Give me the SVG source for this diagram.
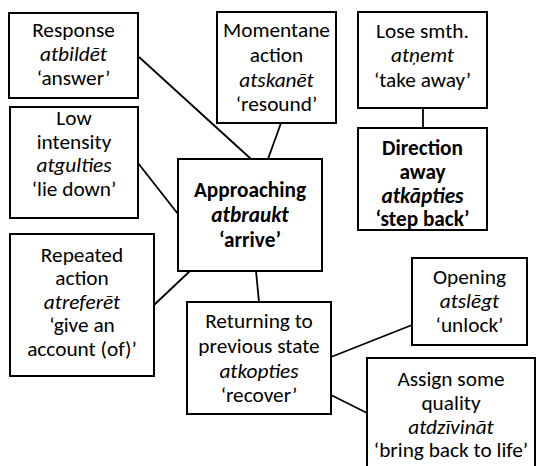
<svg xmlns="http://www.w3.org/2000/svg" width="540" height="466" viewBox="0 0 540 466">
  <style>
    .box { fill: #ffffff; stroke: #000000; stroke-width: 2; }
    .edge { stroke: #000000; stroke-width: 1.8; fill: none; }
    text { font-family: Carlito, Lato, "Liberation Sans", sans-serif; font-size: 21.3px; fill: #000000; text-anchor: middle; }
    .it { font-style: italic; }
    .b { font-weight: bold; }
  </style>
  <rect width="540" height="466" fill="#ffffff"/>

  <!-- connectors -->
  <g id="connectors">
    <line class="edge" x1="139" y1="57" x2="251" y2="159"/>
    <line class="edge" x1="281" y1="123" x2="268" y2="159"/>
    <line class="edge" x1="423" y1="108" x2="423" y2="128"/>
    <line class="edge" x1="138" y1="163" x2="178" y2="214"/>
    <line class="edge" x1="154" y1="305" x2="190" y2="271"/>
    <line class="edge" x1="256" y1="271" x2="259" y2="302"/>
    <line class="edge" x1="331" y1="357" x2="412" y2="325"/>
    <line class="edge" x1="331" y1="395" x2="367" y2="413"/>
  </g>

  <g id="response">
    <rect class="box" x="9" y="13" width="129" height="85"/>
    <text x="73.5" y="37">Response</text>
    <text class="it" x="73.5" y="61">atbildēt</text>
    <text x="73.5" y="85">‘answer’</text>
  </g>

  <g id="momentane">
    <rect class="box" x="217" y="12" width="119" height="111"/>
    <text x="276.5" y="37">Momentane</text>
    <text x="276.5" y="62">action</text>
    <text class="it" x="276.5" y="87">atskanēt</text>
    <text x="276.5" y="111">‘resound’</text>
  </g>

  <g id="lose">
    <rect class="box" x="358" y="12" width="129" height="96"/>
    <text x="422.5" y="38">Lose smth.</text>
    <text class="it" x="422.5" y="62">atņemt</text>
    <text x="422.5" y="87">‘take away’</text>
  </g>

  <g id="direction">
    <rect class="box" x="358" y="128" width="129" height="102"/>
    <text class="b" x="422.5" y="155">Direction</text>
    <text class="b" x="422.5" y="179">away</text>
    <text class="b it" x="422.5" y="203">atkāpties</text>
    <text class="b" x="422.5" y="226">‘step back’</text>
  </g>

  <g id="low">
    <rect class="box" x="10" y="107" width="128" height="111"/>
    <text x="74" y="125">Low</text>
    <text x="74" y="149">intensity</text>
    <text class="it" x="74" y="172">atgulties</text>
    <text x="74" y="196">‘lie down’</text>
  </g>

  <g id="approaching">
    <rect class="box" x="178" y="159" width="144" height="112"/>
    <text class="b" x="250" y="197">Approaching</text>
    <text class="b it" x="250" y="222">atbraukt</text>
    <text class="b" x="250" y="247">‘arrive’</text>
  </g>

  <g id="repeated">
    <rect class="box" x="10" y="234" width="144" height="142"/>
    <text x="82" y="262">Repeated</text>
    <text x="82" y="285">action</text>
    <text class="it" x="82" y="309">atreferēt</text>
    <text x="82" y="332">‘give an</text>
    <text x="82" y="356">account (of)’</text>
  </g>

  <g id="returning">
    <rect class="box" x="187" y="302" width="144" height="112"/>
    <text x="259" y="328">Returning to</text>
    <text x="259" y="353">previous state</text>
    <text class="it" x="259" y="378">atkopties</text>
    <text x="259" y="402">‘recover’</text>
  </g>

  <g id="opening">
    <rect class="box" x="412" y="258" width="115" height="87"/>
    <text x="469.5" y="284">Opening</text>
    <text class="it" x="469.5" y="308">atslēgt</text>
    <text x="469.5" y="332">‘unlock’</text>
  </g>

  <g id="assign">
    <rect class="box" x="367" y="358" width="168" height="130"/>
    <text x="451" y="386">Assign some</text>
    <text x="451" y="410">quality</text>
    <text class="it" x="451" y="434">atdzīvināt</text>
    <text x="451" y="457">‘bring back to life’</text>
  </g>
</svg>
